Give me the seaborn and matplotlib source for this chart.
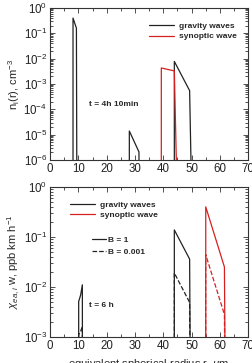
import numpy as np
import pandas as pd
import seaborn as sns
import matplotlib.pyplot as plt
from matplotlib.lines import Line2D
from matplotlib.ticker import LogLocator, MultipleLocator, NullFormatter

LOW = 1e-9  # below the axis, gives the vertical drops

# top panel: n_i(r) at t = 4h 10min
top_grav_r = [8.1, 8.1, 9.3, 9.5, 28.0, 28.0, 31.4, 31.6, 43.9, 43.9, 49.3, 50.3]
top_grav_n = [LOW, 0.40, 0.16, LOW, LOW, 1.4e-5, 2.1e-6, LOW, LOW, 7.8e-3, 5.5e-4, LOW]
top_syn_r = [39.3, 39.3, 43.9, 45.2]
top_syn_n = [LOW, 4.3e-3, 3.3e-3, LOW]

# bottom panel: chi w at t = 6 h
bot_grav_r = [10.1, 10.1, 10.8, 11.4, 11.5, 43.9, 43.9, 49.3, 50.1]
bot_grav_b1 = [LOW, 5.1e-3, 6.9e-3, 1.1e-2, LOW, LOW, 0.138, 0.036, LOW]
bot_grav_b001 = [LOW, 1.1e-3, 1.3e-3, 1.6e-3, LOW, LOW, 0.019, 4.9e-3, LOW]
bot_syn_r = [55.0, 55.0, 61.6, 62.5]
bot_syn_b1 = [LOW, 0.40, 0.025, LOW]
bot_syn_b001 = [LOW, 0.044, 2.8e-3, LOW]

sns.set_style("ticks")
plt.rcParams['font.family'] = ['Liberation Sans', 'DejaVu Sans']
plt.rcParams['mathtext.fontset'] = 'custom'
plt.rcParams['mathtext.rm'] = 'Liberation Sans'
plt.rcParams['mathtext.it'] = 'Liberation Sans:italic'

fig = plt.figure(figsize=(2.53, 3.63), dpi=100)
ax1 = fig.add_axes([0.198, 0.559, 0.783, 0.419])
ax2 = fig.add_axes([0.198, 0.072, 0.783, 0.413])

BLACK = '#222222'
RED = '#d62020'
lw = 0.9

def line(ax, r, v, color, ls='-'):
    df = pd.DataFrame({'r': r, 'v': v})
    sns.lineplot(data=df, x='r', y='v', ax=ax, color=color, lw=lw, ls=ls,
                 estimator=None, sort=False)

line(ax1, top_grav_r, top_grav_n, BLACK)
line(ax1, top_syn_r, top_syn_n, RED)

line(ax2, bot_grav_r, bot_grav_b1, BLACK)
line(ax2, bot_grav_r, bot_grav_b001, BLACK, '--')
line(ax2, bot_syn_r, bot_syn_b1, RED)
line(ax2, bot_syn_r, bot_syn_b001, RED, '--')

for ax, lo in [(ax1, 1e-6), (ax2, 1e-3)]:
    ax.set_yscale('log')
    ax.set_ylim(lo, 1)
    ax.set_xlim(0, 70)
    ax.xaxis.set_major_locator(MultipleLocator(10))
    ax.xaxis.set_minor_locator(MultipleLocator(5))
    ax.yaxis.set_major_locator(LogLocator(base=10, numticks=10))
    ax.yaxis.set_minor_locator(LogLocator(base=10, subs=np.arange(2, 10), numticks=20))
    ax.yaxis.set_minor_formatter(NullFormatter())
    ax.tick_params(which='both', direction='in', top=True, right=True,
                   labelsize=8.3, width=0.6, colors='#333333', labelcolor='#222222', pad=2)
    ax.tick_params(which='major', length=3.5)
    ax.tick_params(which='minor', length=2)
    for s in ax.spines.values():
        s.set_linewidth(0.8)
        s.set_color('#333333')
    ax.set_xlabel('')

ax1.set_ylabel(r'n$_\mathrm{i}$(r), cm$^{-3}$', fontsize=8, labelpad=1)
ax2.set_ylabel(r'$\chi_{ea,i}$ w, ppb km h$^{-1}$', fontsize=8, labelpad=1)
ax2.set_xlabel(r'equivalent spherical radius r, $\mu$m', fontsize=8, labelpad=3.5)

ax1.text(13.8, 1.5e-4, 't = 4h 10min', fontsize=6, fontweight='bold', va='center')
ax2.text(13.8, 4.2e-3, 't = 6 h', fontsize=6, fontweight='bold', va='center')

wave_handles = [Line2D([], [], color=BLACK, lw=lw), Line2D([], [], color=RED, lw=lw)]
wave_labels = ['gravity waves', 'synoptic wave']
ax1.legend(wave_handles, wave_labels, loc='upper left', bbox_to_anchor=(0.47, 0.947),
           frameon=False, prop={'size': 6, 'weight': 'bold'}, handlelength=3.0,
           handletextpad=0.6, labelspacing=0.35, borderpad=0.2)

leg = ax2.legend(wave_handles, wave_labels, loc='upper left', bbox_to_anchor=(0.07, 0.947),
                 frameon=False, prop={'size': 6, 'weight': 'bold'}, handlelength=3.0,
                 handletextpad=0.6, labelspacing=0.35, borderpad=0.2)
ax2.add_artist(leg)
b_handles = [Line2D([], [], color=BLACK, lw=lw), Line2D([], [], color=BLACK, lw=lw, ls='--')]
ax2.legend(b_handles, ['B = 1', 'B = 0.001'], loc='upper left', bbox_to_anchor=(0.18, 0.71),
           frameon=False, prop={'size': 6, 'weight': 'bold'}, handlelength=1.7,
           handletextpad=0.3, labelspacing=0.45, borderpad=0.2)

fig.savefig('out.png', dpi=100)
